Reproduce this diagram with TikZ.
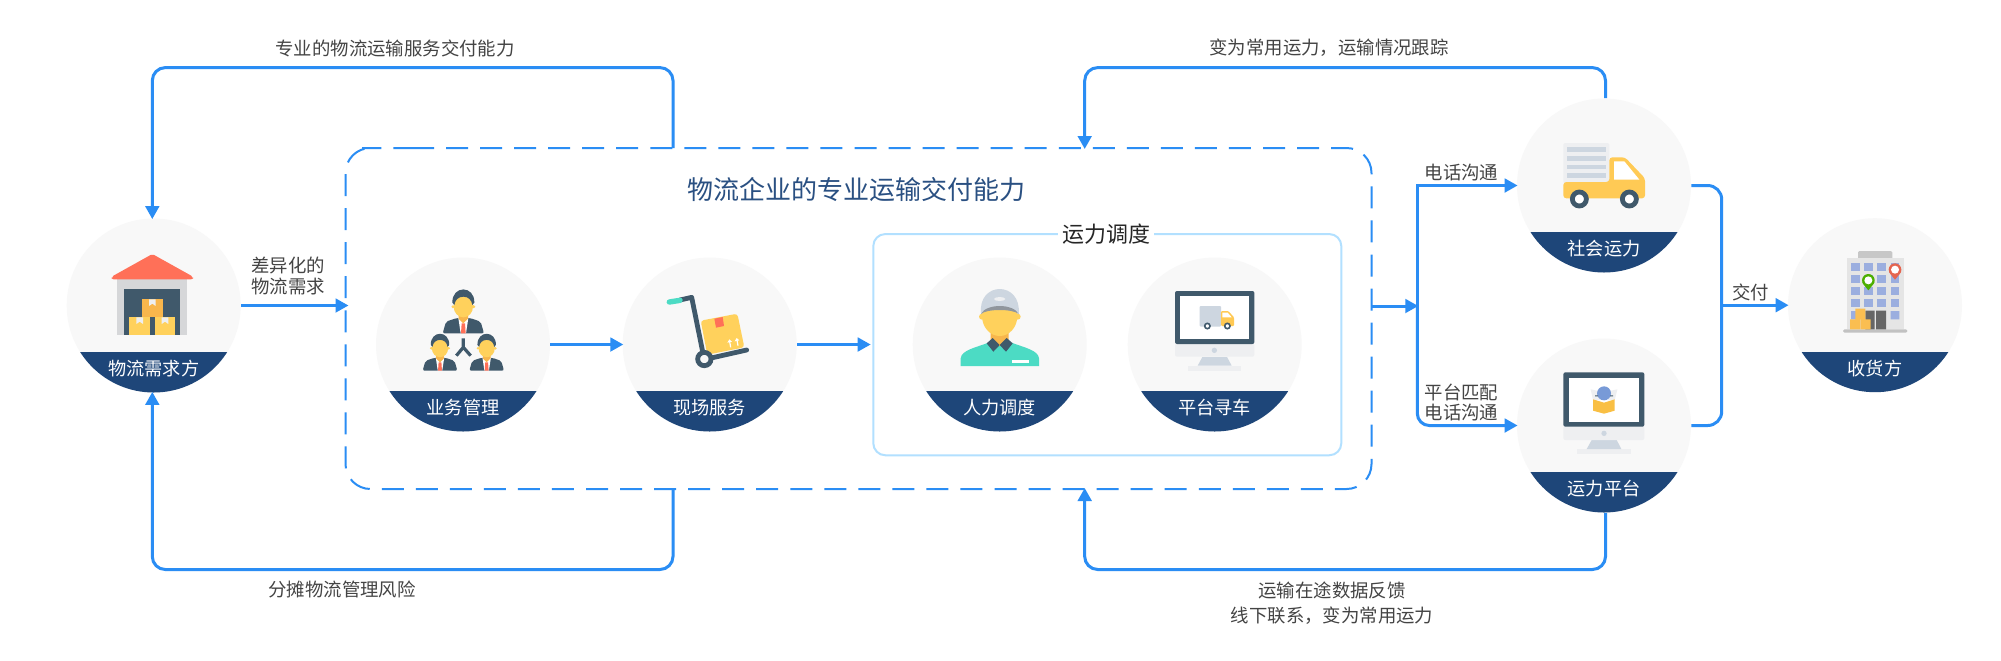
\documentclass[tikz,border=0pt]{standalone}
\usepackage{fontspec}
\setmainfont{Noto Sans CJK SC}
\usetikzlibrary{arrows.meta,calc}
\definecolor{flowblue}{HTML}{2A8DF4}
\definecolor{discgrey}{HTML}{F8F8F8}
\definecolor{bandblue}{HTML}{1E4679}
\definecolor{titleblue}{HTML}{2A5082}
\definecolor{inkgrey}{HTML}{444444}
\definecolor{paleblue}{HTML}{B2E0FF}
\definecolor{slate}{HTML}{40596B}
\definecolor{sun}{HTML}{FFD15C}
\definecolor{amber}{HTML}{F8B64C}
\definecolor{tomato}{HTML}{FF7058}
\definecolor{mint}{HTML}{4CDBC4}
\definecolor{steel}{HTML}{CDD6E0}
\definecolor{paper}{HTML}{EEEFF1}
\tikzset{
  zm/.style 2 args={shift={(#1,#2)},x=0.16667pt,y=-0.16667pt},
  plainline/.style={draw=flowblue,line width=1.5pt},
  arrowline/.style={plainline,-{Triangle[length=6.5pt,width=6.8pt]},shorten >=-0.5pt},
  softbend/.style={rounded corners=6.5pt},
  disc/.style={circle,fill=discgrey,minimum size=87pt,inner sep=0pt},
  bandlabel/.style={text=white,font=\fontsize{9.1pt}{11pt}\selectfont,inner sep=0pt},
  notetext/.style={text=inkgrey,font=\fontsize{9.2pt}{10.4pt}\selectfont,inner sep=0pt,align=center},
}
\newcommand{\station}[4]{%
  \node[disc] (#1) at (#2,#3) {};
  \begin{scope}
    \clip (#2,#3) circle (87);
    \fill[bandblue] ({#2-90},{#3+46.7}) rectangle ({#2+90},{#3+90});
  \end{scope}
  \node[bandlabel] (#1l) at (#2,{#3+63}) {#4};
}
\newcommand{\bizman}[3]{%
  \begin{scope}[shift={(#1,#2)},scale=#3]
    \fill[slate,rounded corners=1pt] (-62,0) -- (-52,-35) -- (-20,-46) -- (20,-46) -- (52,-35) -- (62,0) -- cycle;
    \fill[white] (-15,-46) -- (15,-46) -- (8,0) -- (-8,0) -- cycle;
    \fill[tomato] (-5,-30) -- (5,-30) -- (7,0) -- (-7,0) -- cycle;
    \fill[amber] (-14,-56) -- (14,-56) -- (14,-44) -- (0,-30) -- (-14,-44) -- cycle;
    \fill[sun] (-31,-80) circle (5) (31,-80) circle (5);
    \fill[sun] (0,-80) ellipse [x radius=29,y radius=32];
    \fill[slate] (-33,-92) .. controls (-34,-145) and (34,-145) .. (33,-92)
      -- (27,-85) .. controls (25,-100) and (15,-110) .. (0,-110)
      .. controls (-15,-110) and (-25,-100) .. (-27,-85) -- cycle;
  \end{scope}}
\newcommand{\boxtape}[2]{\fill[paper] ({#1-10},#2) -- ({#1+10},#2) -- ({#1+10},{#2+20}) -- (#1,{#2+13}) -- ({#1-10},{#2+20}) -- cycle;}
\newcommand{\mappin}[3]{%
  \fill[#3] ({#1-18},{#2+6}) .. controls ({#1-12},{#2+16}) and ({#1-5},{#2+24}) .. (#1,{#2+30})
     .. controls ({#1+5},{#2+24}) and ({#1+12},{#2+16}) .. ({#1+18},{#2+6}) -- cycle;
  \fill[#3] (#1,#2) circle (19);
  \fill[white] (#1,#2) circle (12);}
\begin{document}
\begin{tikzpicture}[x=0.5pt,y=-0.5pt]
\useasboundingbox (0,0) rectangle (2001,660);
\fill[white] (0,0) rectangle (2001,660);

% ---------- frames
\node[outer sep=0pt,minimum width=513pt,minimum height=170.5pt,inner sep=0pt] (frame) at (858.5,318.5) {};
\coordinate (framestart) at (387,148);
\draw[flowblue,line width=1pt,rounded corners=12.5pt,dash pattern=on 11pt off 6.02pt]
  (framestart) -- (frame.north east) -- (frame.south east) -- (frame.south west) -- (frame.north west) -- cycle;
\node[draw=paleblue,line width=1pt,rounded corners=6pt,
  minimum width=234pt,minimum height=110.6pt,inner sep=0pt] (crew) at (1107.3,344.65) {};
\node[fill=white,text=black!85,font=\fontsize{11pt}{13pt}\selectfont,inner xsep=2pt,inner ysep=1pt] (crewt) at (1106.3,234.3) {运力调度};
\node[text=titleblue,font=\fontsize{13pt}{15pt}\selectfont,inner sep=0pt] (framet) at (856.5,190) {物流企业的专业运输交付能力};

% ---------- stations
\station{c1}{153.7}{305.5}{物流需求方}
\station{c2}{463}{344.5}{业务管理}
\station{c3}{709.7}{344.5}{现场服务}
\station{c4}{999.7}{344.5}{人力调度}
\station{c5}{1214.7}{344.5}{平台寻车}
\station{c6}{1604}{185.5}{社会运力}
\station{c7}{1604}{425.5}{运力平台}
\station{c8}{1875}{305.2}{收货方}

% ---------- connector way-points
\coordinate (la) at (673,67.6);
\coordinate (lb) at (152.3,67.6);
\coordinate (lc) at (673,569.5);
\coordinate (ld) at (152.3,569.5);
\coordinate (ra) at (1605.5,67.6);
\coordinate (rb) at (1084.7,67.6);
\coordinate (rc) at (1605.5,569.5);
\coordinate (rd) at (1084.7,569.5);
\coordinate (fork) at (1417.3,306);
\coordinate (mt) at (1721.7,185.5);
\coordinate (mb) at (1721.7,425.5);
\coordinate (mm) at (1721.7,305.2);

% ---------- connectors
\draw[arrowline,softbend] (la |- frame.north) -- (la) -- (lb) -- (lb |- c1.north);
\draw[arrowline,softbend] (lc |- frame.south) -- (lc) -- (ld) -- (ld |- c1.south);
\draw[arrowline,softbend] (ra |- c6.north) -- (ra) -- (rb) -- (rb |- frame.north);
\draw[arrowline,softbend] (rc |- c7.south) -- (rc) -- (rd) -- (rd |- frame.south);
\draw[arrowline,shorten >=-1.5pt] (c1.east) -- (c1.east -| frame.west);
\draw[arrowline] (c2.east) -- (c3.west);
\draw[arrowline,shorten >=0.8pt] (c3.east) -- (c3.east -| crew.west);
\draw[arrowline] (fork -| frame.east) -- (fork);
\draw[arrowline] (fork) |- (c6.west);
\draw[arrowline,rounded corners=6pt] (fork) |- (c7.west);
\draw[plainline,rounded corners=7pt] (c6.east) -- (mt) -- (mb) -- (c7.east);
\draw[arrowline] (mm) -- (c8.west);

% ---------- notes
\node[notetext] (n1) at (395,48) {专业的物流运输服务交付能力};
\node[notetext] (n2) at (1329,48) {变为常用运力，运输情况跟踪};
\node[notetext] (n3) at (342,589.5) {分摊物流管理风险};
\node[notetext] (n4) at (1332,603) {运输在途数据反馈\\[1.8pt]线下联系，变为常用运力};
\node[notetext] (n5) at (288,276) {差异化的\\物流需求};
\node[notetext] (n6) at (1461.5,172.3) {电话沟通};
\node[notetext] (n7) at (1461.5,402.5) {平台匹配\\电话沟通};
\node[notetext] (n8) at (1750.5,292.3) {交付};

% ---------- icon: warehouse
\begin{scope}[zm={40}{190}]
  \fill[paper!90!black] (232,268) rectangle (442,435);
  \fill[slate] (253,298) rectangle (421,435);
  \fill[tomato,rounded corners=1pt] (215,268) -- (215,260) -- (337,192) -- (459,260) -- (459,268) -- cycle;
  \fill[amber] (306,328) rectangle (368,382);
  \fill[sun] (268,382) rectangle (330,435);
  \fill[sun] (344,382) rectangle (406,435);
  \boxtape{337}{328}
  \boxtape{299}{382}
  \boxtape{375}{382}
\end{scope}

% ---------- icon: managers
\begin{scope}[zm={360}{240}]
  \bizman{310}{280}{1}
  \bizman{240}{392}{0.84}
  \bizman{380}{392}{0.84}
  \draw[slate,line width=1.6pt] (310,295) -- (310,322) (289,347) -- (310,322) -- (332,347);
\end{scope}

% ---------- icon: hand truck
\begin{scope}[zm={360}{240}]
  \fill[sun,rounded corners=1.5pt] (1022,242) -- (1132,221) -- (1153,322) -- (1042,344) -- cycle;
  \fill[tomato] (1063,236) -- (1088,231) -- (1092,258) -- (1068,263) -- cycle;
  \draw[white,line width=0.6pt] (1112,322) -- (1109,305) (1134,317) -- (1131,301);
  \fill[white] (1102,308) -- (1108,298) -- (1116,305) -- cycle (1124,304) -- (1130,294) -- (1138,301) -- cycle;
  \draw[slate,line width=2.4pt,line cap=round,line join=round] (960,180) -- (995,172) -- (1030,345);
  \draw[slate,line width=2.4pt,line cap=round] (1040,357) -- (1160,330);
  \draw[mint,line width=2.7pt,line cap=round] (928,186) -- (960,181);
  \draw[slate,line width=2.4pt,fill=discgrey] (1033,357) circle (20);
\end{scope}

% ---------- icon: dispatcher
\begin{scope}[zm={860}{210}]
  \fill[mint] (302,468) -- (302,445) .. controls (304,420) and (350,412) .. (385,398)
     -- (455,398) .. controls (490,412) and (535,420) .. (537,445) -- (537,468) -- cycle;
  \fill[amber] (392,360) -- (446,360) -- (446,395) -- (419,408) -- (392,395) -- cycle;
  \fill[slate] (380,400) -- (398,384) -- (419,405) -- (400,425) -- cycle;
  \fill[slate] (458,400) -- (440,384) -- (419,405) -- (438,425) -- cycle;
  \fill[sun] (366,320) circle (9) (473,320) circle (9);
  \fill[sun] (419,318) ellipse [x radius=53,y radius=60];
  \fill[steel] (363,312) .. controls (352,212) and (486,212) .. (476,312)
     .. controls (460,285) and (378,285) .. (363,312) -- cycle;
  \fill[black!30!steel] (363,312) .. controls (378,280) and (460,280) .. (476,312)
     .. controls (460,296) and (378,296) .. (363,312) -- cycle;
  \fill[paper] (419,267) ellipse [x radius=17,y radius=6];
  \fill[white] (456,449) rectangle (508,460);
\end{scope}

% ---------- icon: monitor with truck
\begin{scope}[zm={860}{210}]
  \fill[paper] (985,467) rectangle (1143,483);
  \fill[steel] (1027,441) -- (1101,441) -- (1115,467) -- (1013,467) -- cycle;
  \fill[paper,rounded corners=1pt] (945,400) rectangle (1183,440);
  \fill[slate,rounded corners=1pt] (945,243) rectangle (1183,402);
  \fill[white] (960,259) rectangle (1168,387);
  \fill[steel] (1063,421) circle (8);
  \fill[steel,rounded corners=0.5pt] (1019,288) rectangle (1083,350);
  \fill[sun!90!orange,rounded corners=0.5pt] (1083,303) -- (1105,303) -- (1122,322) -- (1122,348) -- (1083,348) -- cycle;
  \fill[white] (1087,308) -- (1103,308) -- (1115,322) -- (1087,322) -- cycle;
  \draw[slate,line width=0.8pt,fill=white] (1042,348) circle (8) (1102,348) circle (8);
\end{scope}

% ---------- icon: truck
\begin{scope}[zm={1400}{80}]
  \fill[paper,rounded corners=0.7pt] (490,189) rectangle (628,310);
  \foreach \yy in {201,228,254,280} \fill[steel] (501,\yy) rectangle (617,\yy+14);
  \fill[sun!92!orange,rounded corners=1.5pt] (490,306) -- (628,306) -- (628,232) -- (675,232) -- (735,295) -- (735,355) -- (490,355) -- cycle;
  \fill[white] (642,244) -- (673,244) -- (718,299) -- (642,299) -- cycle;
  \draw[slate,line width=2.4pt,fill=white] (538,357) circle (21) (688,357) circle (21);
\end{scope}

% ---------- icon: monitor with parcel
\begin{scope}[zm={1400}{320}]
  \fill[paper] (531,387) rectangle (693,402);
  \fill[steel] (575,360) -- (650,360) -- (664,387) -- (560,387) -- cycle;
  \fill[paper,rounded corners=1pt] (490,318) rectangle (733,360);
  \fill[slate,rounded corners=1pt] (490,157) rectangle (733,320);
  \fill[white] (506,173) rectangle (718,305);
  \fill[steel] (612,340) circle (8);
  \fill[paper] (572,208) -- (600,214) -- (600,240) -- (579,240) -- cycle;
  \fill[paper] (652,208) -- (624,214) -- (624,240) -- (644,240) -- cycle;
  \fill[cyan!45!blue!55!white] (612,220) circle (21);
  \fill[slate] (585,226) rectangle (594,229) (630,226) rectangle (639,229);
  \fill[amber!88!yellow] (579,238) -- (612,248) -- (644,238) -- (644,272) -- (612,281) -- (579,272) -- cycle;
\end{scope}

% ---------- icon: building
\begin{scope}[zm={1700}{200}]
  \fill[black!22,rounded corners=0.7pt] (474,153) rectangle (577,178);
  \fill[black!10] (441,173) rectangle (611,388);
  \fill[black!24,rounded corners=0.7pt] (429,388) rectangle (622,398);
  \foreach \xx in {453,493,532,572}
    \foreach \yy in {189,225,261,297}
      \fill[cyan!40!blue!40!white] (\xx,\yy) rectangle (\xx+26,\yy+25);
  \fill[cyan!40!blue!40!white] (453,333) rectangle (479,358) (572,333) rectangle (598,358);
  \fill[black!60] (496,332) rectangle (524,388) (528,332) rectangle (558,388);
  \fill[amber!70!sun] (466,326) rectangle (496,358) (450,358) rectangle (480,388) (482,358) rectangle (512,388);
  \mappin{505}{241}{green!55!black!70!yellow}
  \mappin{585}{209}{tomato!90!black}
\end{scope}
\end{tikzpicture}
\end{document}
